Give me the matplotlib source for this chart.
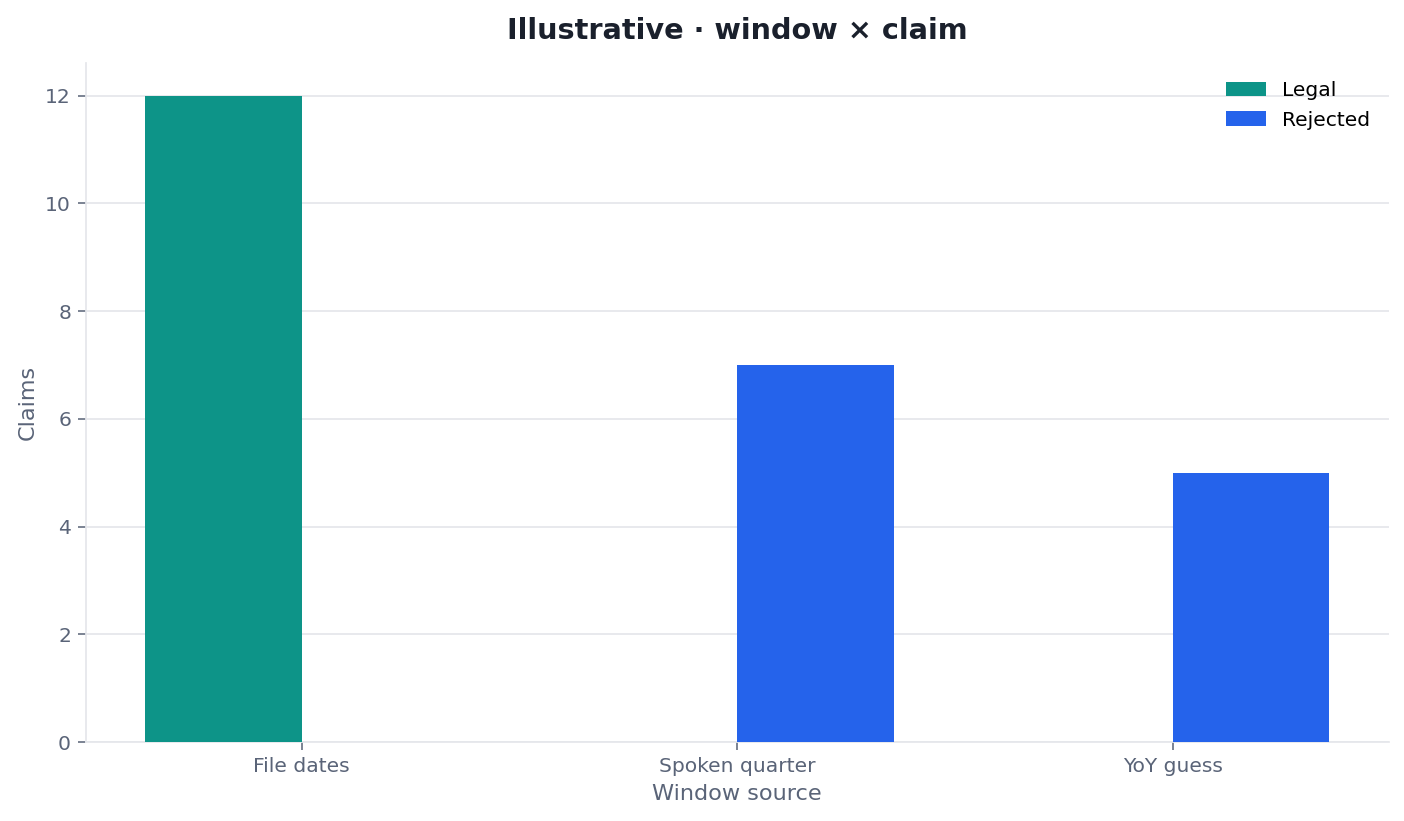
import matplotlib
matplotlib.use("Agg")
import matplotlib.pyplot as plt
import numpy as np

plt.rcParams["font.family"] = ["DejaVu Sans"]

categories = ["File dates", "Spoken quarter", "YoY guess"]
legal = [12, 0, 0]
rejected = [0, 7, 5]

fig, ax = plt.subplots(figsize=(1404 / 140, 821 / 140), dpi=140)
x = np.arange(len(categories))
w = 0.36
ax.bar(x - w / 2, legal, w, color="#0d9488", label="Legal", zorder=3)
ax.bar(x + w / 2, rejected, w, color="#2563eb", label="Rejected", zorder=3)

ax.set_xticks(x)
ax.set_xticklabels(categories)
ax.set_title("Illustrative · window × claim", fontsize=14.8, fontweight="bold",
             color="#1a202c", pad=12.5)
ax.set_xlabel("Window source", fontsize=11.5, color="#5a6478")
ax.set_ylabel("Claims", fontsize=11.5, color="#5a6478")
ax.tick_params(axis="both", colors="#5a6478", labelsize=10.4, length=4)
ax.grid(axis="y", color="#e5e7eb", linewidth=0.9, zorder=0)
ax.set_axisbelow(True)
for s in ["top", "right"]:
    ax.spines[s].set_visible(False)
for s in ["left", "bottom"]:
    ax.spines[s].set_color("#e5e7eb")
    ax.spines[s].set_linewidth(0.9)
leg = ax.legend(frameon=False, fontsize=10.4, loc="upper right")

fig.subplots_adjust(left=0.061, right=0.989, top=0.923, bottom=0.096)
fig.savefig("out.png", dpi=140)
